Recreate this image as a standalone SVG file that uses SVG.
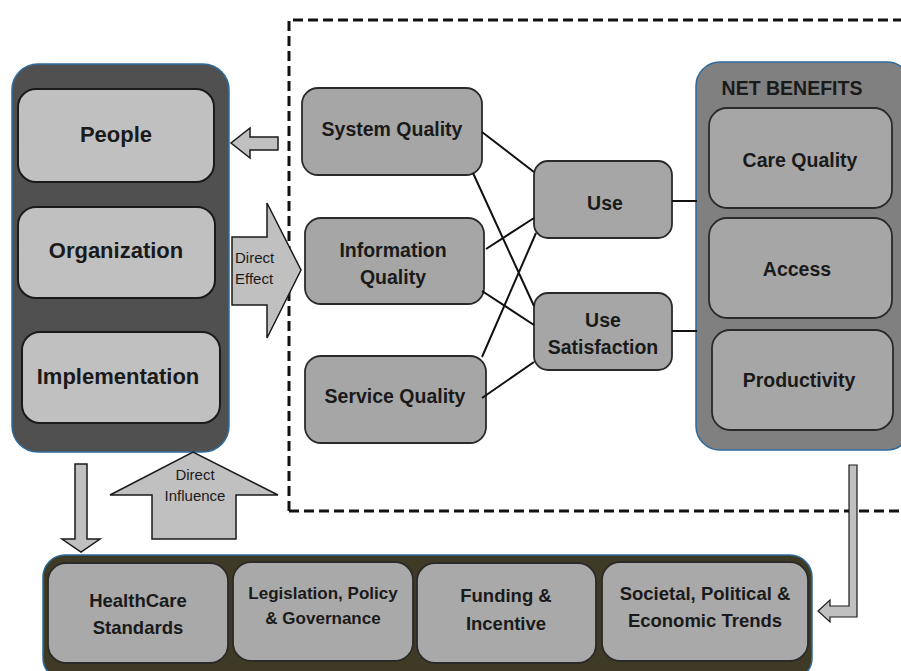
<svg xmlns="http://www.w3.org/2000/svg" width="901" height="671" viewBox="0 0 901 671">
<style>
text{font-family:"Liberation Sans",Arial,sans-serif;font-weight:bold;fill:#1a1a1a;text-anchor:middle}
.t{font-size:19.5px}
.L{font-size:22px}
.b{font-size:18.5px}
.s{font-size:15px;font-weight:normal}
.cont{stroke:#2f6b9a;stroke-width:1.5}
.lb{fill:#c0c0c0;stroke:#1a1a1a;stroke-width:2}
.mb{fill:#a6a6a6;stroke:#2a2a2a;stroke-width:1.8}
.ar{fill:#c0c0c0;stroke:#1a1a1a;stroke-width:1.5}
.ln{stroke:#111;stroke-width:2;fill:none}
</style>
<rect width="901" height="671" fill="#fff"/>
<g id="scope">
<path d="M289,511 V20 H901 M289,511 H901" fill="none" stroke="#111" stroke-width="3" stroke-dasharray="10,5"/>
</g>
<g id="left-group">
<rect class="cont" x="12" y="64" width="217" height="388" rx="26" fill="#505050"/>
<g id="people"><rect class="lb" x="18" y="89" width="196" height="93" rx="18"/><text class="L" x="116" y="142">People</text></g>
<g id="organization"><rect class="lb" x="18" y="207" width="197" height="91" rx="18"/><text class="L" x="116" y="258">Organization</text></g>
<g id="implementation"><rect class="lb" x="22" y="332" width="198" height="91" rx="18"/><text class="L" x="118" y="384">Implementation</text></g>
</g>
<g id="net-benefits">
<rect class="cont" x="696" y="62" width="215" height="388" rx="24" fill="#808080"/>
<text x="792" y="95" style="font-size:19.5px">NET BENEFITS</text>
<g id="care-quality"><rect class="mb" x="709" y="108" width="183" height="100" rx="18"/><text class="t" x="800" y="167">Care Quality</text></g>
<g id="access"><rect class="mb" x="709" y="218" width="183" height="100" rx="18"/><text class="t" x="797" y="276">Access</text></g>
<g id="productivity"><rect class="mb" x="712" y="330" width="181" height="100" rx="18"/><text class="t" x="799" y="387">Productivity</text></g>
</g>
<g id="system-quality"><rect class="mb" x="302" y="88" width="180" height="87" rx="16"/><text class="t" x="392" y="136">System Quality</text></g>
<g id="information-quality"><rect class="mb" x="305" y="218" width="179" height="86" rx="16"/><text class="t" x="393" y="257">Information</text><text class="t" x="393" y="284">Quality</text></g>
<g id="service-quality"><rect class="mb" x="305" y="356" width="181" height="87" rx="16"/><text class="t" x="395" y="403">Service Quality</text></g>
<g id="use"><rect class="mb" x="534" y="161" width="138" height="77" rx="14"/><text class="t" x="605" y="210">Use</text></g>
<g id="use-satisfaction"><rect class="mb" x="534" y="293" width="138" height="77" rx="14"/><text class="t" x="603" y="327">Use</text><text class="t" x="603" y="354">Satisfaction</text></g>
<g id="bottom-group">
<rect class="cont" x="43" y="555" width="769" height="125" rx="22" fill="#3e3a25"/>
<g id="healthcare-standards"><rect class="mb" x="48" y="563" width="180" height="100" rx="18" style="fill:#a9a9a9"/><text class="b" x="138" y="607">HealthCare</text><text class="b" x="138" y="634">Standards</text></g>
<g id="legislation"><rect class="mb" x="233" y="562" width="180" height="99" rx="18" style="fill:#a9a9a9"/><text class="b" x="323" y="599" style="font-size:17px">Legislation, Policy</text><text class="b" x="323" y="624" style="font-size:17px">&amp; Governance</text></g>
<g id="funding"><rect class="mb" x="417" y="563" width="179" height="100" rx="18" style="fill:#a9a9a9"/><text class="b" x="506" y="602">Funding &amp;</text><text class="b" x="506" y="630">Incentive</text></g>
<g id="societal"><rect class="mb" x="602" y="562" width="206" height="99" rx="18" style="fill:#a9a9a9"/><text class="b" x="705" y="600">Societal, Political &amp;</text><text class="b" x="705" y="627">Economic Trends</text></g>
</g>
<g id="connectors">
<path class="ln" d="M482,132 L534,172 M473,173 L534,306 M486,249 L534,218 M482,291 L534,325 M482,357 L536,233 M482,398 L534,362 M672,201 H697 M672,331 H697"/>
<polygon class="ar" points="278,137 250,137 250,128 231,143 250,158 250,150 278,150"/>
<polygon class="ar" points="232,237 267,237 267,203 301,270 267,338 267,305 232,305"/>
<text class="s" x="235" y="263" style="text-anchor:start">Direct</text>
<text class="s" x="235" y="284" style="text-anchor:start">Effect</text>
<polygon class="ar" points="75,464 87,464 87,539 100,539 81,552 62,539 75,539"/>
<polygon class="ar" points="152,539 236,539 236,495 278,495 193,452 110,495 152,495"/>
<text class="s" x="195" y="480">Direct</text>
<text class="s" x="195" y="501">Influence</text>
<polygon class="ar" style="stroke-width:1.2" points="849,465 857,465 857,617 830,617 830,622 818,611 830,600 830,606 849,606"/>
</g>
</svg>
